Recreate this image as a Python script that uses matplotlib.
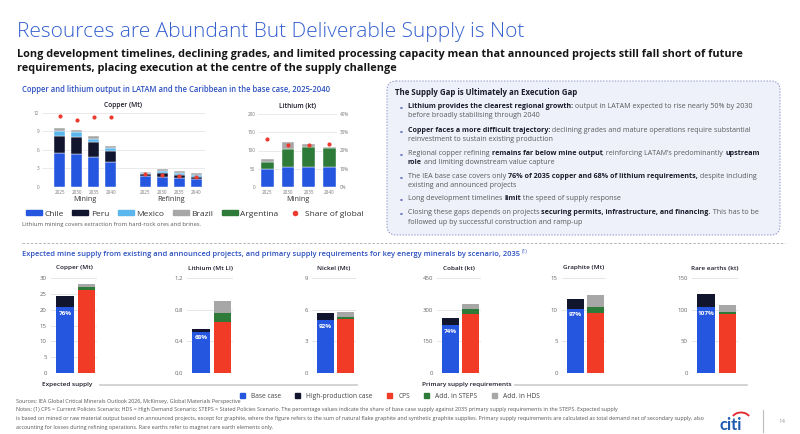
import matplotlib
matplotlib.use("Agg")
import matplotlib.pyplot as plt
from matplotlib.patches import FancyBboxPatch, Arc, Patch
from matplotlib.lines import Line2D
from matplotlib.font_manager import FontProperties
import matplotlib.transforms as mtransforms

plt.rcParams['font.family'] = ['Open Sans', 'DejaVu Sans']

# ---------------- data ----------------
years = ["2025", "2030", "2035", "2040"]
cu_groups = ["Mining", "Refining"]
countries = ["Chile", "Peru", "Mexico", "Brazil", "Argentina"]

cu_mining_chile = [5.5, 5.4, 4.8, 4.1]
cu_mining_peru = [2.7, 2.7, 2.5, 1.8]
cu_mining_mexico = [0.9, 0.8, 0.5, 0.4]
cu_mining_brazil = [0.4, 0.4, 0.4, 0.4]
cu_mining_share = [0.385, 0.363, 0.381, 0.376]

cu_ref_chile = [1.8, 1.7, 1.5, 1.35]
cu_ref_peru = [0.3, 0.55, 0.45, 0.35]
cu_ref_mexico = [0.15, 0.3, 0.25, 0.2]
cu_ref_brazil = [0.15, 0.35, 0.35, 0.3]
cu_ref_share = [0.072, 0.065, 0.061, 0.056]

li_chile = [49, 55, 56, 56]
li_argentina = [20, 50, 53, 50]
li_brazil = [9, 18, 8, 3]
li_share = [0.264, 0.229, 0.229, 0.234]

minerals = ["Copper (Mt)", "Lithium (Mt LI)", "Nickel (Mt)", "Cobalt (kt)",
            "Graphite (Mt)", "Rare earths (kt)"]
base_case = [20.7, 0.52, 4.98, 226, 10.15, 103.7]
high_prod_add = [3.6, 0.04, 0.7, 36, 1.55, 21.0]
cps = [26.1, 0.65, 5.1, 280, 9.45, 92.6]
steps_add = [1.1, 0.105, 0.25, 25, 1.0, 4.2]
hds_add = [1.0, 0.16, 0.4, 20, 1.8, 11.1]
share_labels = ["76%", "68%", "92%", "74%", "97%", "107%"]
y_max = [30, 1.2, 9, 450, 15, 150]
y_ticks = [[0, 5, 10, 15, 20, 25, 30], [0.0, 0.4, 0.8, 1.2], [0, 3, 6, 9],
           [0, 150, 300, 450], [0, 5, 10, 15], [0, 50, 100, 150]]
y_tick_labels = [["0", "5", "10", "15", "20", "25", "30"], ["0.0", "0.4", "0.8", "1.2"],
                 ["0", "3", "6", "9"], ["0", "150", "300", "450"],
                 ["0", "5", "10", "15"], ["0", "50", "100", "150"]]
scenarios = ["Base case", "High-production case", "CPS", "Add. in STEPS", "Add. in HDS"]

# ---------------- style ----------------
C_CHILE = '#2456DF'
C_PERU = '#12152E'
C_MEX = '#5CB6EE'
C_BRA = '#A7A7A7'
C_ARG = '#2E7B39'
C_DOT = '#EE3B30'
C_CPS = '#F23B26'
C_TITLE = '#3560CF'
C_HEAD = '#2C50C0'
C_TXT = '#5A5A5A'
C_DARK = '#1B1B2A'
C_GRID = '#E2E2E2'
FAM = ['Open Sans', 'DejaVu Sans']

W, H = 800, 434
fig = plt.figure(figsize=(8, 4.34), dpi=100)
bg = fig.add_axes([0, 0, 1, 1])
bg.set_xlim(0, W)
bg.set_ylim(H, 0)
bg.axis('off')
renderer = fig.canvas.get_renderer()


def ax_px(x0, y0, x1, y1):
    a = fig.add_axes([x0 / W, 1 - y1 / H, (x1 - x0) / W, (y1 - y0) / H])
    a.patch.set_alpha(0)
    return a


def tw(s, fp):
    w, _, _ = renderer.get_text_width_height_descent("|" + s + "|", fp, ismath=False)
    w0, _, _ = renderer.get_text_width_height_descent("||", fp, ismath=False)
    return w - w0


def rich(x, y, segs, size, cn=C_TXT, cb=C_DARK, wn='normal', wb='bold'):
    for s, b in segs:
        fp = FontProperties(family=FAM, size=size, weight=wb if b else wn)
        bg.text(x, y, s, fontproperties=fp, color=cb if b else cn, va='baseline', ha='left')
        x += tw(s, fp)
    return x


# ---------------- header ----------------
bg.text(17, 37, "Resources are Abundant But Deliverable Supply is Not", fontsize=15.0,
        color=C_TITLE, va='baseline', ha='left', fontweight='light')
bg.text(17, 57, "Long development timelines, declining grades, and limited processing capacity mean that "
        "announced projects still fall short of future", fontsize=7.85, fontweight='bold',
        color='#151515', va='baseline')
bg.text(17, 71.5, "requirements, placing execution at the centre of the supply challenge", fontsize=7.85,
        fontweight='bold', color='#151515', va='baseline')

bg.text(22, 91.5, "Copper and lithium output in LATAM and the Caribbean in the base case, 2025-2040",
        fontsize=5.5, color=C_HEAD, fontweight='semibold', va='baseline')

# ---------------- top copper chart ----------------
axc = ax_px(42, 113, 205, 187)
mpos = [0, 1, 2, 3]
rpos = [5, 6, 7, 8]
bw = 0.65
ek = dict(edgecolor='white', linewidth=0.3)
for pos, ch, pe, me, br in [(mpos, cu_mining_chile, cu_mining_peru, cu_mining_mexico, cu_mining_brazil),
                            (rpos, cu_ref_chile, cu_ref_peru, cu_ref_mexico, cu_ref_brazil)]:
    b1 = ch
    b2 = [a + b for a, b in zip(b1, pe)]
    b3 = [a + b for a, b in zip(b2, me)]
    axc.bar(pos, ch, bw, color=C_CHILE, **ek, zorder=2)
    axc.bar(pos, pe, bw, bottom=b1, color=C_PERU, **ek, zorder=2)
    axc.bar(pos, me, bw, bottom=b2, color=C_MEX, **ek, zorder=2)
    axc.bar(pos, br, bw, bottom=b3, color=C_BRA, **ek, zorder=2)
axc.set_ylim(0, 12)
axc.set_xlim(-1.03, 8.5)
axc.set_yticks([0, 3, 6, 9, 12])
axc.set_xticks(mpos + rpos, labels=years + years)
axc2 = axc.twinx()
axc2.set_ylim(0, 0.40)
axc2.scatter(mpos + rpos, cu_mining_share + cu_ref_share, s=9, color=C_DOT, zorder=5, linewidths=0)
axc2.axis('off')
axc.text(0.5, 1.06, "Copper (Mt)", transform=axc.transAxes, ha='center', va='bottom',
         fontsize=4.8, fontweight='semibold', color=C_DARK)

# ---------------- top lithium chart ----------------
axl = ax_px(258, 114, 337, 187)
lpos = [0, 1, 2, 3]
lb2 = [a + b for a, b in zip(li_chile, li_argentina)]
axl.bar(lpos, li_chile, 0.6, color=C_CHILE, **ek, zorder=2)
axl.bar(lpos, li_argentina, 0.6, bottom=li_chile, color=C_ARG, **ek, zorder=2)
axl.bar(lpos, li_brazil, 0.6, bottom=lb2, color=C_BRA, **ek, zorder=2)
axl.set_ylim(0, 200)
axl.set_xlim(-0.45, 3.37)
axl.set_yticks([0, 50, 100, 150, 200])
axl.set_xticks(lpos, labels=years)
axl2 = axl.twinx()
axl2.set_ylim(0, 0.40)
axl2.scatter(lpos, li_share, s=9, color=C_DOT, zorder=5, linewidths=0)
axl2.set_yticks([0, 0.1, 0.2, 0.3, 0.4], labels=["0%", "10%", "20%", "30%", "40%"])
axl.text(0.5, 1.06, "Lithium (kt)", transform=axl.transAxes, ha='center', va='bottom',
         fontsize=4.8, fontweight='semibold', color=C_DARK)

for a in (axc, axl, axc2, axl2):
    for s in a.spines.values():
        s.set_visible(False)
    a.tick_params(length=0, labelsize=3.3, labelcolor='#777777', pad=2)
for a in (axc, axl):
    a.grid(axis='y', color=C_GRID, linewidth=0.5, zorder=0)
    a.set_axisbelow(True)

for a, xs, labs in [(axc, [1.5, 6.5], cu_groups), (axl, [1.5], ["Mining"])]:
    tr = mtransforms.blended_transform_factory(a.transData, a.transAxes)
    for xv, lab in zip(xs, labs):
        a.text(xv, -0.17, lab, transform=tr, ha='center', va='center', fontsize=5.2, color='#333333')

top_handles = [Patch(color=C_CHILE), Patch(color=C_PERU), Patch(color=C_MEX), Patch(color=C_BRA),
               Patch(color=C_ARG),
               Line2D([], [], marker='o', color='none', markerfacecolor=C_DOT, markeredgewidth=0,
                      markersize=4)]
leg1 = fig.legend(top_handles, countries + ["Share of global"], loc='center left',
                  bbox_to_anchor=(26 / W, 1 - 214 / H), ncol=6, frameon=False, fontsize=6.0,
                  handlelength=1.9, handleheight=0.5, handletextpad=0.3, columnspacing=1.05,
                  labelcolor='#333333', borderpad=0, borderaxespad=0)
bg.text(22, 226, "Lithium mining covers extraction from hard-rock ores and brines.", fontsize=4.2,
        color=C_TXT, va='baseline')

# ---------------- text box ----------------
box = FancyBboxPatch((387, 81), 393, 154, boxstyle="round,pad=0,rounding_size=9",
                     facecolor='#EEF0FA', edgecolor='#8E96C8', linewidth=0.7, linestyle=(0, (1.5, 1.5)))
bg.add_patch(box)
bg.text(395, 95, "The Supply Gap is Ultimately an Execution Gap", fontsize=5.7, fontweight='bold',
        color=C_DARK, va='baseline')
bullets = [
    [[("Lithium provides the clearest regional growth:", True),
      (" output in LATAM expected to rise nearly 50% by 2030", False)],
     [("before broadly stabilising through 2040", False)]],
    [[("Copper faces a more difficult trajectory:", True),
      (" declining grades and mature operations require substantial", False)],
     [("reinvestment to sustain existing production", False)]],
    [[("Regional copper refining ", False), ("remains far below mine output", True),
      (", reinforcing LATAM\u2019s predominantly ", False), ("upstream", True)],
     [("role", True), (" and limiting downstream value capture", False)]],
    [[("The IEA base case covers only ", False),
      ("76% of 2035 copper and 68% of lithium requirements,", True), (" despite including", False)],
     [("existing and announced projects", False)]],
    [[("Long development timelines ", False), ("limit", True), (" the speed of supply response", False)]],
    [[("Closing these gaps depends on projects ", False),
      ("securing permits, infrastructure, and financing.", True), (" This has to be", False)],
     [("followed up by successful construction and ramp-up", False)]],
]
first_y = [108, 132, 155, 178, 200.5, 214.5]
for b, y in zip(bullets, first_y):
    bg.text(400, y, "\u25aa", fontsize=3.2, color='#6F7BC4', va='baseline', ha='left')
    for i, line in enumerate(b):
        rich(408, y + 9.2 * i, line, 5.1)

# dashed separator
bg.plot([22, 785], [243, 243], color='#AAAAAA', linewidth=0.6, linestyle=(0, (3, 2)))

# ---------------- bottom section ----------------
xe = rich(22, 256, [("Expected mine supply from existing and announced projects, and primary supply "
                     "requirements for key energy minerals by scenario, 2035", False)], 5.4,
          cn=C_HEAD, wn='semibold')
bg.text(xe + 2, 253, "(1)", fontsize=3.4, color=C_HEAD, va='baseline')

bot_x = [(51, 97), (187, 233), (312, 356), (437, 481), (562, 606), (692, 738)]
for i, (x0, x1) in enumerate(bot_x):
    a = ax_px(x0, 278, x1, 373)
    bb = 0.82
    a.bar(0, base_case[i], bb, color=C_CHILE, zorder=2)
    a.bar(0, high_prod_add[i], bb, bottom=base_case[i], color=C_PERU, zorder=2)
    a.bar(1, cps[i], bb, color=C_CPS, zorder=2)
    a.bar(1, steps_add[i], bb, bottom=cps[i], color=C_ARG, zorder=2)
    a.bar(1, hds_add[i], bb, bottom=cps[i] + steps_add[i], color=C_BRA, zorder=2)
    a.set_xlim(-0.65, 1.5)
    a.set_ylim(0, y_max[i])
    a.set_yticks(y_ticks[i], labels=y_tick_labels[i])
    a.set_xticks([])
    a.grid(axis='y', color=C_GRID, linewidth=0.6, zorder=0)
    a.set_axisbelow(True)
    for s in a.spines.values():
        s.set_visible(False)
    a.tick_params(length=0, labelsize=4.3, labelcolor='#666666', pad=3)
    a.annotate(share_labels[i], xy=(0, base_case[i]), xytext=(0, -2.5), textcoords='offset points',
               ha='center', va='top', fontsize=4.6, fontweight='bold', color='white', zorder=5)
    a.text(0.5, 1.08, minerals[i], transform=a.transAxes, ha='center', va='bottom', fontsize=4.6,
           fontweight='semibold', color=C_DARK)

bg.text(42, 386, "Expected supply", fontsize=4.6, fontweight='semibold', color=C_DARK, va='baseline')
bg.plot([100, 357], [384.5, 384.5], color='#CCCCCC', linewidth=1.2)
bg.text(422, 386, "Primary supply requirements", fontsize=4.6, fontweight='semibold', color=C_DARK,
        va='baseline')
bg.plot([515, 747], [384.5, 384.5], color='#CCCCCC', linewidth=1.2)

bot_handles = [Patch(color=C_CHILE), Patch(color=C_PERU), Patch(color=C_CPS), Patch(color=C_ARG),
               Patch(color=C_BRA)]
fig.legend(bot_handles, scenarios, loc='center left', bbox_to_anchor=(240 / W, 1 - 396 / H), ncol=5,
           frameon=False, fontsize=4.8, handlelength=0.75, handleheight=0.75, handletextpad=0.9,
           columnspacing=2.15, labelcolor='#444444', borderpad=0, borderaxespad=0)

# ---------------- footer ----------------
foot = ["Sources: IEA Global Critical Minerals Outlook 2026, McKinsey, Global Materials Perspective",
        "Notes: (1) CPS = Current Policies Scenario; HDS = High Demand Scenario; STEPS = Stated Policies "
        "Scenario. The percentage values indicate the share of base case supply against 2035 primary "
        "supply requirements in the STEPS. Expected supply",
        "is based on mined or raw material output based on announced projects, except for graphite, "
        "where the figure refers to the sum of natural flake graphite and synthetic graphite supplies. "
        "Primary supply requirements are calculated as total demand net of secondary supply, also",
        "accounting for losses during refining operations. Rare earths refer to magnet rare earth "
        "elements only."]
for j, (ln, y) in enumerate(zip(foot, [403, 411, 420, 429])):
    bg.text(16, y, ln, fontsize=3.85, color='#555555', va='baseline')

bg.text(719, 430, "citi", fontsize=12, fontweight='bold', color='#1E5AAF', va='baseline',
        family=['Lato', 'DejaVu Sans'])
bg.add_patch(Arc((741, 419), 18, 13, theta1=200, theta2=340, color='#E3242B', linewidth=1.3))
bg.plot([763, 763], [410, 432], color='#BBBBBB', linewidth=0.8)
bg.text(782, 423, "14", fontsize=4.3, color='#999999', va='baseline', ha='center')

fig.savefig("out.png", dpi=100)
